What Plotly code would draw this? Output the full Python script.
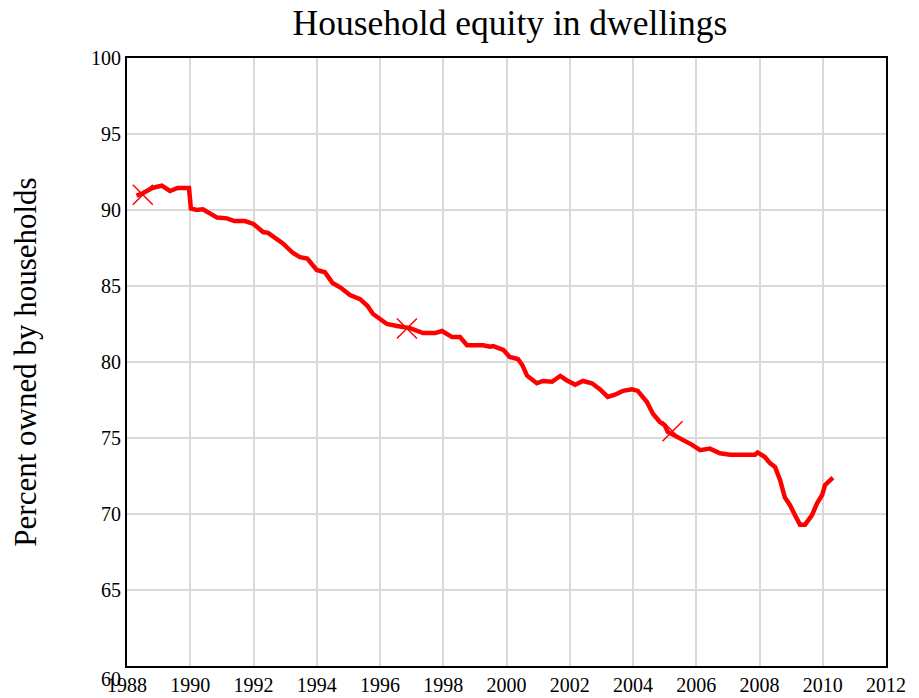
import plotly.graph_objects as go

years = [1988.3, 1988.5, 1988.8, 1989.1, 1989.36, 1989.6, 1989.96, 1990.02, 1990.2, 1990.4,
         1990.85, 1991.16, 1991.4, 1991.73, 1992.0, 1992.3, 1992.46, 1992.93, 1993.25, 1993.47,
         1993.7, 1994.0, 1994.26, 1994.5, 1994.75, 1995.05, 1995.37, 1995.6, 1995.78, 1996.22,
         1996.54, 1996.95, 1997.36, 1997.74, 1997.96, 1998.28, 1998.53, 1998.75, 1999.26, 1999.48,
         1999.58, 1999.9, 2000.1, 2000.36, 2000.5, 2000.65, 2000.96, 2001.15, 2001.44, 2001.7,
         2001.9, 2002.17, 2002.42, 2002.7, 2002.96, 2003.2, 2003.43, 2003.68, 2003.97, 2004.15,
         2004.44, 2004.63, 2004.85, 2005.0, 2005.1, 2005.4, 2005.7, 2005.87, 2006.12, 2006.43,
         2006.75, 2007.07, 2007.86, 2007.94, 2008.17, 2008.33, 2008.49, 2008.65, 2008.8, 2008.96,
         2009.12, 2009.28, 2009.44, 2009.66, 2009.82, 2009.98, 2010.07, 2010.32]
equity = [90.95, 91.1, 91.45, 91.6, 91.25, 91.45, 91.45, 90.1, 90.0, 90.05,
          89.5, 89.45, 89.27, 89.27, 89.08, 88.55, 88.5, 87.8, 87.17, 86.9,
          86.8, 86.05, 85.9, 85.2, 84.9, 84.4, 84.14, 83.7, 83.16, 82.5,
          82.37, 82.23, 81.9, 81.9, 82.04, 81.64, 81.64, 81.1, 81.1, 81.0,
          81.05, 80.8, 80.33, 80.2, 79.8, 79.1, 78.6, 78.75, 78.7, 79.08,
          78.8, 78.5, 78.75, 78.6, 78.2, 77.7, 77.85, 78.1, 78.2, 78.1,
          77.37, 76.6, 76.05, 75.85, 75.4, 75.07, 74.8, 74.55, 74.2, 74.3,
          74.0, 73.9, 73.9, 74.05, 73.75, 73.35, 73.1, 72.24, 71.1, 70.6,
          69.93, 69.3, 69.3, 69.93, 70.7, 71.25, 71.9, 72.4]

marker_years = [1988.5, 1996.85, 2005.25]
marker_values = [91.0, 82.2, 75.45]

x_ticks = list(range(1988, 2013, 2))
y_ticks = [65, 70, 75, 80, 85, 90, 95, 100]
y_bottom_label = "60"

fig = go.Figure()
fig.add_trace(go.Scatter(x=years, y=equity, mode="lines",
                         line=dict(color="#ff0000", width=4.5), showlegend=False))
fig.add_trace(go.Scatter(x=marker_years, y=marker_values, mode="markers",
                         marker=dict(symbol="x-thin", size=20, color="#ff0000",
                                     line=dict(color="#ff0000", width=1.5)),
                         showlegend=False))

font = "Liberation Serif"
W, H = 911, 690  # page has an 8px body margin
fig.update_layout(
    width=W, height=H,
    margin=dict(l=119, r=33, t=50, b=32),
    paper_bgcolor="white", plot_bgcolor="white",
    font=dict(family=font, color="black"),
    title=dict(text="Household equity in dwellings", x=(510 - 8) / W, xanchor="center",
               xref="container", y=1 - (23 - 8) / H, yanchor="middle", yref="container",
               font=dict(size=35.5, family=font, color="black")),
    xaxis=dict(range=[1988, 2012], tickvals=x_ticks, ticktext=[str(t) for t in x_ticks],
               showgrid=True, gridcolor="#d9d9d9", gridwidth=1.5, automargin=False,
               showline=True, linecolor="black", linewidth=2, mirror=True,
               ticks="", tickfont=dict(size=20, family=font), zeroline=False),
    yaxis=dict(range=[60, 100], tickvals=y_ticks, ticktext=[str(t) for t in y_ticks],
               showgrid=True, gridcolor="#d9d9d9", gridwidth=1.5, automargin=False,
               showline=True, linecolor="black", linewidth=2, mirror=True,
               ticks="", tickfont=dict(size=20, family=font), zeroline=False,
               title=dict(text="Percent owned by households", font=dict(size=31, family=font),
                          standoff=46)),
)
fig.add_annotation(x=0, xref="paper", y=60, yref="y", text=y_bottom_label,
                   showarrow=False, xanchor="right", yanchor="middle",
                   xshift=-4, yshift=-13, font=dict(size=20, family=font, color="black"))

fig.write_html("out.html")
